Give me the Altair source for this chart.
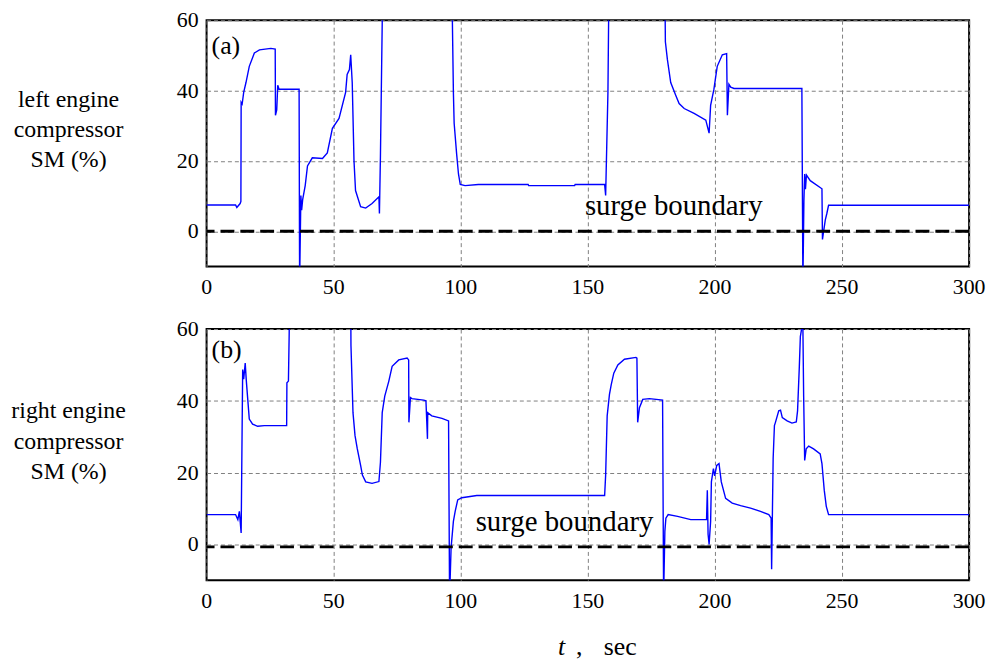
import altair as alt
import pandas as pd

# ---------- data ----------
left_t = [0, 11.4, 11.9, 13.2, 13.5, 13.6, 14.0, 14.6, 15.5, 16.8, 18.8, 20.8, 25.3, 27.0, 27.1, 27.6, 28.0, 28.5,
          36.4, 36.6, 37.1, 37.4, 37.8, 38.8, 39.7, 41.6, 45.6, 47.5, 49.5, 52.1, 54.7, 55.3, 56.2, 56.7, 57.3,
          58.0, 58.6, 60.6, 62.6, 65.1, 67.8, 68.0, 68.4, 69.3,
          96.5, 97.1, 97.4, 98.4, 99.1, 99.8, 101.7, 106.9, 126.5, 126.7, 144.8, 145.0, 156.6, 157.0, 157.9, 158.3,
          180.3, 180.5, 181.3, 182.6, 184.6, 185.9, 187.9, 191.8, 196.4, 197.7, 198.3, 199.6, 200.9, 202.9, 204.6,
          204.9, 205.5, 206.2, 207.5, 234.2, 234.6, 235.0, 235.3, 235.6, 236.0, 237.5, 242.1, 242.3, 243.4, 244.0,
          244.7, 300]
left_v = [7.5, 7.5, 6.8, 7.9, 8.5, 36.7, 36.2, 39.5, 42.3, 46.9, 50.7, 51.6, 52.0, 51.8, 33.0, 34.5, 41.5, 40.4,
          40.4, -15, 10.2, 6.0, 9.0, 13.0, 18.6, 20.9, 20.7, 22.3, 29.3, 32.1, 39.5, 44.6, 46.0, 50.2, 42.3,
          20.0, 11.6, 7.0, 6.6, 7.9, 9.8, 5.1, 21.4, 70,
          70, 39.5, 30.7, 21.8, 16.3, 13.3, 13.0, 13.3, 13.3, 13.0, 13.0, 13.3, 13.3, 10.2, 39.5, 70,
          70, 53.9, 48.8, 42.3, 38.6, 36.3, 34.9, 33.5, 31.6, 27.9, 35.8, 40.4, 46.9, 50.2, 50.5,
          33.0, 41.8, 41.0, 40.6, 40.6, -15, 8.7, 16.3, 12.0, 16.0, 14.4, 12.1, -2.3, 3.2, 5.0,
          7.4, 7.4]

right_t = [0, 11.4, 12.3, 12.9, 13.6, 14.2, 14.6, 15.2, 15.6, 16.2, 16.8, 18.1, 20.1, 22.7, 31.5, 31.6, 32.2,
           32.5, 32.6, 56.7, 56.8, 57.6, 58.4, 59.3, 60.6, 61.3, 62.6, 65.1, 67.8, 68.4, 69.1, 70.1, 71.7, 73.0,
           75.6, 78.9, 79.5, 79.6, 80.2, 80.8, 85.4, 86.3, 86.9, 87.0, 88.6, 92.6, 95.2, 95.6, 96.2, 97.1, 97.8,
           98.8, 100.4, 106.3, 156.6, 157.0, 157.6, 158.5, 159.2, 160.2, 161.8, 164.4, 168.9, 169.3, 169.6, 170.3,
           171.6, 174.2, 179.4, 179.8, 180.3, 180.7, 181.6, 185.3, 190.5, 196.7, 197.0, 197.3, 197.7, 198.3,
           198.6, 199.4, 199.9, 200.7, 201.6, 202.5, 204.2, 206.8, 210.1, 214.0, 217.9, 221.2, 222.1, 222.3,
           222.9, 223.4, 223.8, 225.1, 225.8, 226.5, 228.4, 230.3, 232.0, 232.5, 233.2, 233.6, 234.2, 234.6,
           234.9, 235.3, 235.9, 236.9, 238.8, 241.4, 242.1, 243.0, 243.8, 244.7, 300]
right_v = [8.3, 8.3, 6.9, 9.2, 3.2, 48.7, 46.0, 50.5, 45.9, 40.4, 34.9, 33.5, 32.9, 33.1, 33.1, 45.0, 45.5,
           58.8, 70, 70, 55.5, 36.7, 30.3, 26.6, 22.0, 19.3, 17.4, 17.0, 17.5, 22.9, 36.7, 41.3, 45.5, 49.6,
           51.4, 51.9, 51.4, 34.0, 40.9, 40.6, 40.2, 40.0, 29.4, 36.7, 35.8, 35.1, 34.4, -15, -0.9, 6.4, 9.2,
           12.4, 13.0, 13.6, 13.6, 19.3, 35.8, 41.8, 44.5, 47.7, 50.0, 51.6, 52.1, 51.9, 34.0, 38.1,
           40.4, 40.6, 40.2, -15, 3.7, 7.3, 8.3, 7.8, 6.9, 6.9, 15.1, 2.8, 0.0, 6.4,
           17.4, 21.1, 19.1, 22.0, 22.5, 17.4, 12.8, 11.5, 10.8, 10.1, 9.2, 8.3, 7.3, -6.9,
           23.9, 33.1, 34.0, 37.2, 37.4, 35.3, 34.4, 33.8, 34.1, 37.2, 49.6, 57.9, 60.5, 60.5,
           41.3, 23.4, 26.6, 27.4, 26.6, 25.2, 22.5, 15.1, 10.6, 8.3, 8.3]

surge_levels = [0.0, -0.7]
panel_labels = ["(a)", "(b)"]
y_titles = ["left engine\ncompressor\nSM (%)", "right engine\ncompressor\nSM (%)"]
x_ticks = [0, 50, 100, 150, 200, 250, 300]
y_ticks = [0, 20, 40, 60]

FONT = "Liberation Serif"
W = 768


def txt(s, size=22, align="left", baseline="alphabetic", style="normal", **kw):
    return alt.Chart(pd.DataFrame({"l": [s]})).mark_text(
        font=FONT, fontSize=size, align=align, baseline=baseline, fontStyle=style,
        color="black", **kw)


def panel(ts, vs, surge, H, label, label_y, ytitle, title_y, surge_x, surge_y, with_xtitle):
    df = pd.DataFrame({"t": ts, "v": vs, "i": range(len(ts))})
    xs = alt.Scale(domain=[0, 300], nice=False)
    ys = alt.Scale(domain=[-10, 60], nice=False)
    x = alt.X("t:Q", scale=xs, axis=alt.Axis(values=x_ticks, title=None, labels=False))
    y = alt.Y("v:Q", scale=ys, axis=alt.Axis(values=y_ticks, title=None, labels=False))
    line = alt.Chart(df).mark_line(color="#0000ff", strokeWidth=1.4, clip=True).encode(
        x=x, y=y, order="i:Q")
    rule = alt.Chart(pd.DataFrame({"v": [surge]})).mark_rule(
        color="black", strokeWidth=3, strokeDash=[14, 6]).encode(y="v:Q")
    # tick labels (text through the shared scales)
    xl = alt.Chart(pd.DataFrame({"t": x_ticks})).mark_text(
        font=FONT, fontSize=22, align="center", baseline="alphabetic", color="black").encode(
        x="t:Q", y=alt.value(H + 28), text=alt.Text("t:Q", format="d"))
    yl = alt.Chart(pd.DataFrame({"v": y_ticks})).mark_text(
        font=FONT, fontSize=22, align="right", baseline="middle", color="black", dx=-8).encode(
        y="v:Q", x=alt.value(0), text=alt.Text("v:Q", format="d"))
    yt = txt(ytitle, size=24, align="center", baseline="middle", lineBreak="\n",
             lineHeight=30.5).encode(x=alt.value(-139), y=alt.value(title_y), text="l:N")
    lab = txt(label, size=26, baseline="middle").encode(
        x=alt.value(5), y=alt.value(label_y), text="l:N")
    sb = txt("surge boundary", size=29).encode(
        x=alt.value(surge_x), y=alt.value(surge_y), text="l:N")
    layers = [line, rule, xl, yl, yt, lab, sb]
    if with_xtitle:
        layers += [
            txt("t", size=26, style="italic").encode(x=alt.value(354), y=alt.value(H + 75), text="l:N"),
            txt(",", size=26).encode(x=alt.value(372), y=alt.value(H + 75), text="l:N"),
            txt("sec", size=26).encode(x=alt.value(400), y=alt.value(H + 75), text="l:N"),
        ]
    return alt.layer(*layers).properties(width=W, height=H)


top = panel(left_t, left_v, surge_levels[0], 248, panel_labels[0], 26, y_titles[0], 80, 381, 196, False)
bottom = panel(right_t, right_v, surge_levels[1], 253, panel_labels[1], 21, y_titles[1], 83, 271, 203, True)

chart = alt.vconcat(top, bottom, spacing=18).properties(
    padding={"left": 2, "top": -2, "right": 0, "bottom": 0}
).configure_view(stroke="black", strokeWidth=2).configure_axis(
    grid=True, gridColor="#808080", gridDash=[4, 3], gridWidth=1, gridOpacity=1,
    domain=False, ticks=False
)

chart.save("out.html", embed_options={"renderer": "svg", "actions": False})
